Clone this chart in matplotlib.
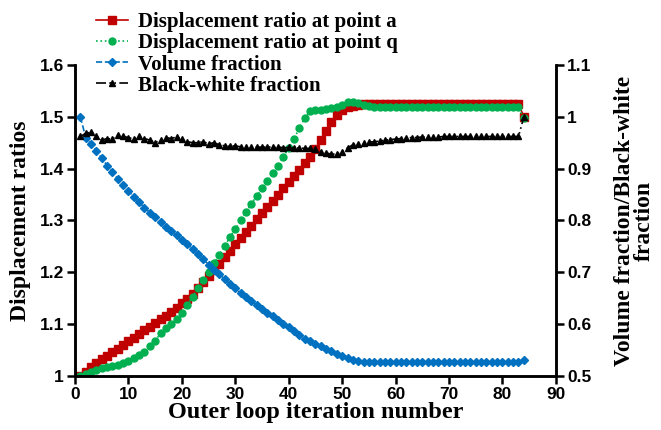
import numpy as np
import matplotlib.pyplot as plt
from matplotlib.ticker import FuncFormatter

# iteration numbers
iters = np.arange(1, 85)

# displacement ratio at point a (left axis)
ratio_a = [1.000, 1.008, 1.017, 1.025, 1.032, 1.039, 1.046, 1.053, 1.060, 1.067,
           1.074, 1.081, 1.088, 1.095, 1.102, 1.109, 1.116, 1.123, 1.131, 1.140,
           1.149, 1.159, 1.170, 1.181, 1.192, 1.204, 1.216, 1.229, 1.242, 1.254,
           1.266, 1.278, 1.290, 1.302, 1.314, 1.326, 1.338, 1.350, 1.362, 1.374,
           1.386, 1.398, 1.410, 1.422, 1.438, 1.455, 1.472, 1.489, 1.503, 1.513,
           1.518, 1.521, 1.523, 1.524, 1.525, 1.525, 1.525, 1.525, 1.525, 1.525,
           1.525, 1.525, 1.525, 1.525, 1.525, 1.525, 1.525, 1.525, 1.525, 1.525,
           1.525, 1.525, 1.525, 1.525, 1.525, 1.525, 1.525, 1.525, 1.525, 1.525,
           1.525, 1.525, 1.525, 1.500]

# displacement ratio at point q (left axis)
ratio_q = [1.000, 1.003, 1.008, 1.012, 1.015, 1.018, 1.020, 1.022, 1.025, 1.029,
           1.034, 1.040, 1.047, 1.057, 1.068, 1.082, 1.093, 1.101, 1.109, 1.122,
           1.137, 1.153, 1.169, 1.185, 1.200, 1.217, 1.234, 1.251, 1.268, 1.284,
           1.300, 1.316, 1.332, 1.347, 1.362, 1.376, 1.391, 1.406, 1.423, 1.440,
           1.458, 1.478, 1.498, 1.511, 1.514, 1.514, 1.515, 1.516, 1.518, 1.523,
           1.528, 1.529, 1.527, 1.523, 1.520, 1.518, 1.518, 1.518, 1.518, 1.518,
           1.518, 1.518, 1.518, 1.518, 1.518, 1.518, 1.518, 1.518, 1.518, 1.518,
           1.518, 1.518, 1.518, 1.518, 1.518, 1.518, 1.518, 1.518, 1.518, 1.518,
           1.518, 1.518, 1.518, 1.497]

# volume fraction (right axis)
vol_frac = [1.000, 0.960, 0.947, 0.934, 0.920, 0.906, 0.893, 0.880, 0.868, 0.857,
            0.846, 0.835, 0.825, 0.815, 0.806, 0.797, 0.788, 0.779, 0.771, 0.762,
            0.754, 0.745, 0.735, 0.725, 0.715, 0.705, 0.696, 0.687, 0.678, 0.669,
            0.660, 0.652, 0.644, 0.637, 0.629, 0.622, 0.615, 0.608, 0.601, 0.594,
            0.586, 0.579, 0.572, 0.567, 0.562, 0.557, 0.553, 0.549, 0.543, 0.538,
            0.534, 0.531, 0.528, 0.527, 0.527, 0.527, 0.527, 0.527, 0.527, 0.527,
            0.527, 0.527, 0.527, 0.527, 0.527, 0.527, 0.527, 0.527, 0.527, 0.527,
            0.527, 0.527, 0.527, 0.527, 0.527, 0.527, 0.527, 0.527, 0.527, 0.527,
            0.527, 0.527, 0.527, 0.531]

# black-white fraction (right axis)
bw_frac = [0.962, 0.968, 0.970, 0.963, 0.955, 0.958, 0.957, 0.965, 0.962, 0.960,
           0.957, 0.962, 0.958, 0.955, 0.950, 0.955, 0.960, 0.958, 0.961, 0.957,
           0.952, 0.950, 0.950, 0.952, 0.948, 0.950, 0.946, 0.944, 0.943, 0.944,
           0.942, 0.942, 0.941, 0.942, 0.941, 0.942, 0.941, 0.942, 0.940, 0.941,
           0.940, 0.940, 0.939, 0.939, 0.937, 0.933, 0.930, 0.928, 0.928, 0.932,
           0.940, 0.946, 0.948, 0.950, 0.951, 0.952, 0.953, 0.955, 0.956, 0.957,
           0.958, 0.959, 0.960, 0.960, 0.961, 0.961, 0.961, 0.961, 0.962, 0.962,
           0.962, 0.962, 0.962, 0.962, 0.962, 0.962, 0.962, 0.962, 0.962, 0.962,
           0.962, 0.962, 0.962, 1.000]

red = "#C00000"
green = "#00B050"
blue = "#0070C0"

serif = "Liberation Serif"
sans = "Liberation Sans"

fig = plt.figure(figsize=(6.61, 4.30), dpi=100)
ax = fig.add_axes([0.1135, 0.1256, 0.7275, 0.7234])
ax2 = ax.twinx()

l1, = ax.plot(iters, ratio_a, color=red, ls="-", marker="s", ms=5.5, lw=1.2,
              label="Displacement ratio at point a")
l2, = ax.plot(iters, ratio_q, color=green, ls=":", marker="o", ms=5, lw=1.2,
              label="Displacement ratio at point q")
l3, = ax2.plot(iters, vol_frac, color=blue, ls="--", marker="D", ms=3.8, lw=1.2,
               label="Volume fraction")
l4, = ax2.plot(iters, bw_frac, color="black", ls=(0, (6, 2, 1, 2, 1, 2)),
               marker="^", ms=5, lw=1.2, label="Black-white fraction")

ax.set_xlim(0, 90)
ax.set_ylim(1.0, 1.6)
ax2.set_ylim(0.5, 1.1)
ax.set_xticks(np.arange(0, 91, 10))
ax.set_yticks(np.arange(1.0, 1.61, 0.1))
ax2.set_yticks(np.arange(0.5, 1.11, 0.1))
fmt = FuncFormatter(lambda v, p: "%g" % round(v, 2))
ax.yaxis.set_major_formatter(fmt)
ax2.yaxis.set_major_formatter(fmt)

for a in (ax, ax2):
    a.spines["top"].set_visible(False)
    for s in ("left", "right", "bottom"):
        a.spines[s].set_linewidth(1.8)
    a.tick_params(direction="out", length=6, width=1.8, labelsize=12.5, pad=2)
    for lab in a.get_xticklabels() + a.get_yticklabels():
        lab.set_fontfamily(sans)
        lab.set_fontweight("bold")

ax.set_xlabel("Outer loop iteration number", fontfamily=serif, fontweight="bold",
              fontsize=17.5, labelpad=0)
ax.set_ylabel("Displacement ratios", fontfamily=serif, fontweight="bold",
              fontsize=17, labelpad=6)
ax2.set_ylabel("Volume fraction/Black-white\nfraction", fontfamily=serif,
               fontweight="bold", fontsize=17, labelpad=16, linespacing=0.95)

fig.legend(handles=[l1, l2, l3, l4], loc="upper left",
           bbox_to_anchor=(0.123, 1.005), frameon=False,
           prop={"family": serif, "weight": "bold", "size": 15},
           handlelength=1.55, handletextpad=0.45, labelspacing=0.05,
           borderaxespad=0.3)

fig.savefig("out.png", dpi=100)
